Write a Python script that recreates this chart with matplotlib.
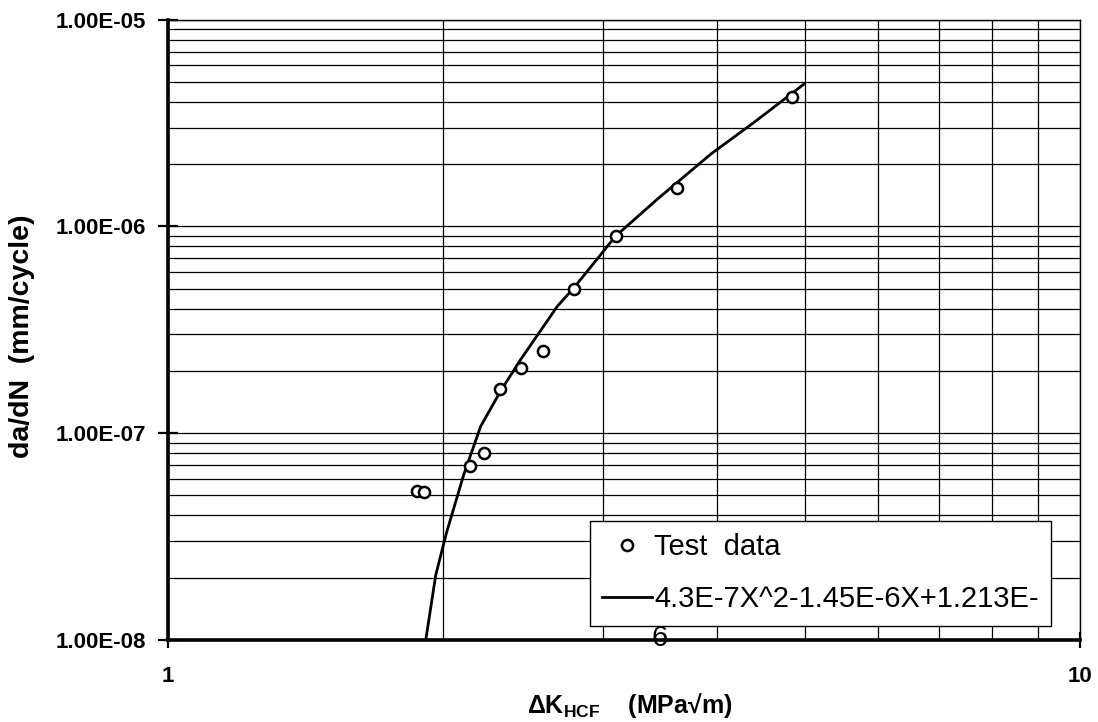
import matplotlib
matplotlib.use("Agg")
import matplotlib.pyplot as plt
from matplotlib.ticker import LogLocator, FuncFormatter, NullFormatter
import numpy as np

plt.rcParams['font.family'] = ['Liberation Sans', 'DejaVu Sans']
plt.rcParams['mathtext.fontset'] = 'custom'
plt.rcParams['mathtext.rm'] = 'Liberation Sans:bold'
plt.rcParams['mathtext.it'] = 'Liberation Sans:bold'
plt.rcParams['mathtext.bf'] = 'Liberation Sans:bold'

# Test data
test_dk = [1.877, 1.909, 2.144, 2.221, 2.312, 2.438, 2.58, 2.787, 3.097, 3.613, 4.828]
test_dadn = [5.26e-8, 5.19e-8, 6.96e-8, 8.02e-8, 1.637e-7, 2.07e-7, 2.49e-7,
             5.0e-7, 8.98e-7, 1.524e-6, 4.207e-6]

# Fitted trend curve
fit_dk = [1.917, 1.966, 2.02, 2.11, 2.202, 2.316, 2.436, 2.673, 2.787, 3.097,
          3.44, 3.937, 4.391, 4.984]
fit_dadn = [1.0e-8, 2.06e-8, 3.3e-8, 6.3e-8, 1.078e-7, 1.6e-7, 2.27e-7, 4.11e-7,
            5.05e-7, 8.98e-7, 1.353e-6, 2.235e-6, 3.18e-6, 4.88e-6]

test_label = "Test  data"
fit_label = "4.3E-7X^2-1.45E-6X+1.213E-"
fit_label_overflow = "6"

fig = plt.figure(figsize=(10.98, 7.22), dpi=100)
ax = fig.add_axes([168/1098, 1 - 640/722, (1080-168)/1098, (640-19.5)/722])

ax.set_xscale('log')
ax.set_yscale('log')
ax.set_xlim(1, 10)
ax.set_ylim(1e-8, 1e-5)

ax.plot(fit_dk, fit_dadn, color='black', linewidth=2.0, label=fit_label,
        zorder=3, clip_on=True)
ax.plot(test_dk, test_dadn, linestyle='none', marker='o', markersize=8,
        markerfacecolor='white', markeredgecolor='black', markeredgewidth=1.8,
        label=test_label, zorder=4)

ax.yaxis.set_major_locator(LogLocator(base=10, numticks=10))
ax.yaxis.set_minor_locator(LogLocator(base=10, subs=np.arange(2, 10), numticks=20))
ax.xaxis.set_major_locator(LogLocator(base=10, numticks=10))
ax.xaxis.set_minor_locator(LogLocator(base=10, subs=np.arange(2, 10), numticks=20))
ax.yaxis.set_major_formatter(FuncFormatter(lambda v, p: f"{v:.2E}"))
ax.yaxis.set_minor_formatter(NullFormatter())
ax.xaxis.set_major_formatter(FuncFormatter(lambda v, p: f"{v:g}"))
ax.xaxis.set_minor_formatter(NullFormatter())

ax.grid(True, which='both', color='black', linewidth=0.9)
ax.set_axisbelow(True)

for s in ['left', 'bottom']:
    ax.spines[s].set_linewidth(2.6)
for s in ['top', 'right']:
    ax.spines[s].set_linewidth(1.0)

ax.tick_params(axis='y', which='major', direction='inout', length=14, width=1.6,
               labelsize=16, pad=9)
ax.tick_params(axis='x', which='major', direction='inout', length=12, width=1.6,
               labelsize=16, pad=13)
ax.tick_params(which='minor', length=0)
for lab in ax.get_xticklabels() + ax.get_yticklabels():
    lab.set_fontweight('bold')

ax.set_ylabel("da/dN  (mm/cycle)", fontsize=20.5, fontweight='bold')
ax.yaxis.set_label_coords(22/1098, 1 - 336/722, transform=fig.transFigure)
ax.set_xlabel(r"$\mathrm{\Delta K_{HCF}}$    (MPa√m)", fontsize=18, fontweight='bold')
ax.xaxis.set_label_coords(630/1098, 1 - 705/722, transform=fig.transFigure)
ax.xaxis.label.set_va('center')
ax.yaxis.label.set_va('center')

handles, labels = ax.get_legend_handles_labels()
leg = ax.legend([handles[1], handles[0]], [labels[1], labels[0]],
                loc='upper left', bbox_to_anchor=(590/1098, 1 - 521/722),
                bbox_transform=fig.transFigure, fontsize=21, frameon=True,
                fancybox=False, edgecolor='black', framealpha=1,
                borderpad=0.42, handlelength=1.7, handletextpad=0.08,
                labelspacing=0.83, borderaxespad=0)
leg.get_frame().set_linewidth(1.0)
leg.set_zorder(5)
fig.text(660/1098, 1 - 638/722, fit_label_overflow, fontsize=21,
         ha='center', va='center', zorder=6)

fig.savefig("out.png", dpi=100, facecolor='white')
